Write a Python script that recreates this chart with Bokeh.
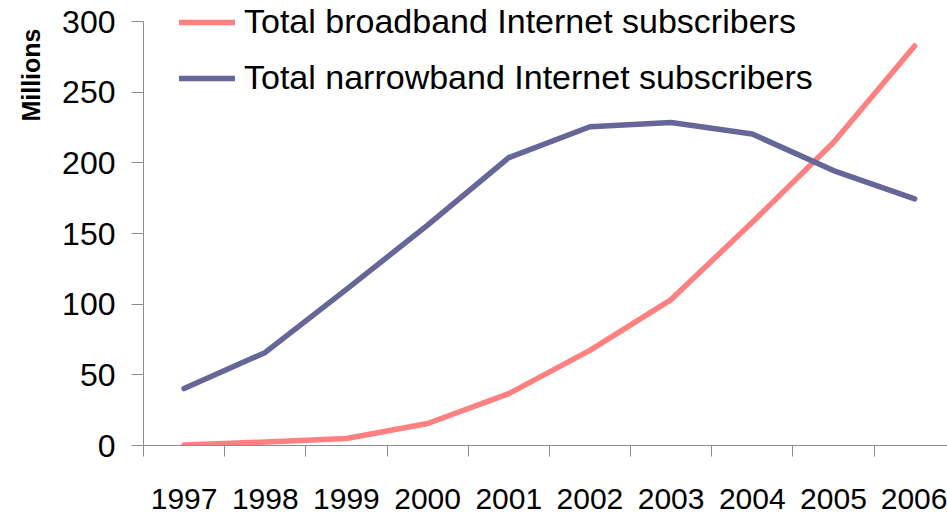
from bokeh.plotting import figure
from bokeh.models import (FixedTicker, LinearAxis, Legend, LegendItem, Title,
                          Range1d, CustomJSTickFormatter)
from bokeh.embed import file_html
from bokeh.resources import INLINE

years = [1997, 1998, 1999, 2000, 2001, 2002, 2003, 2004, 2005, 2006]
broadband = [0.3, 2.5, 5, 15.6, 36.7, 67.3, 103.3, 158, 214.5, 282.8]
narrowband = [40.3, 65.9, 110.5, 156, 203.8, 225.6, 228.7, 220.5, 194.6, 174.6]
y_ticks = [0, 50, 100, 150, 200, 250, 300]
series_names = ["Total broadband Internet subscribers",
                "Total narrowband Internet subscribers"]
colors = ["#FF8080", "#666699"]

FONT = "Liberation Sans"
GRAY = "#8c8c8c"

p = figure(width=947, height=516, output_backend="svg", toolbar_location=None,
           x_range=Range1d(years[0] - 0.5, years[-1] + 0.405),
           y_range=Range1d(0, 315),
           x_axis_location=None, y_axis_location=None,
           min_border_left=142, min_border_right=0,
           min_border_top=0, min_border_bottom=71)
p.outline_line_color = None
p.grid.visible = False
p.background_fill_color = "white"
p.border_fill_color = "white"

# y axis
yax = LinearAxis(ticker=FixedTicker(ticks=y_ticks), bounds=(0, 300))
yax.axis_line_color = GRAY
yax.major_tick_line_color = GRAY
yax.major_tick_out = 12
yax.major_tick_in = 0
yax.minor_tick_line_color = None
yax.major_label_text_font = FONT
yax.major_label_text_font_size = "32px"
yax.major_label_text_color = "black"
yax.major_label_standoff = 16
p.add_layout(yax, "left")

p.add_layout(Title(text="Millions", align="right", text_font=FONT,
                   text_font_size="25px", text_font_style="bold",
                   text_color="black", offset=28, standoff=29), "left")

# x axis with tick marks between categories
bounds = [y - 0.5 for y in years]
xax1 = LinearAxis(ticker=FixedTicker(ticks=bounds),
                  formatter=CustomJSTickFormatter(code="return ''"))
xax1.axis_line_color = GRAY
xax1.major_tick_line_color = GRAY
xax1.major_tick_out = 11
xax1.major_tick_in = 0
xax1.minor_tick_line_color = None
xax1.major_label_text_font_size = "1px"
xax1.major_label_standoff = 0
p.add_layout(xax1, "below")

xax2 = LinearAxis(ticker=FixedTicker(ticks=years))
xax2.axis_line_color = None
xax2.major_tick_line_color = None
xax2.minor_tick_line_color = None
xax2.major_label_text_font = FONT
xax2.major_label_text_font_size = "30px"
xax2.major_label_text_color = "black"
xax2.major_label_standoff = 26
xax2.major_label_overrides = {y: str(y) for y in years}
p.add_layout(xax2, "below")

r1 = p.line(years, broadband, line_color=colors[0], line_width=5.5,
            line_cap="round", line_join="round")
r2 = p.line(years, narrowband, line_color=colors[1], line_width=5.5,
            line_cap="round", line_join="round")

legend = Legend(items=[LegendItem(label=series_names[0], renderers=[r1]),
                       LegendItem(label=series_names[1], renderers=[r2])],
                location=(36, 348), orientation="vertical",
                label_text_font=FONT, label_text_font_size="34px",
                label_text_color="black", glyph_width=56, glyph_height=30,
                label_height=30, spacing=17, label_standoff=9, padding=0,
                margin=0, background_fill_alpha=0, border_line_color=None)
p.add_layout(legend, "center")

open("out.html", "w").write(file_html(p, INLINE))
